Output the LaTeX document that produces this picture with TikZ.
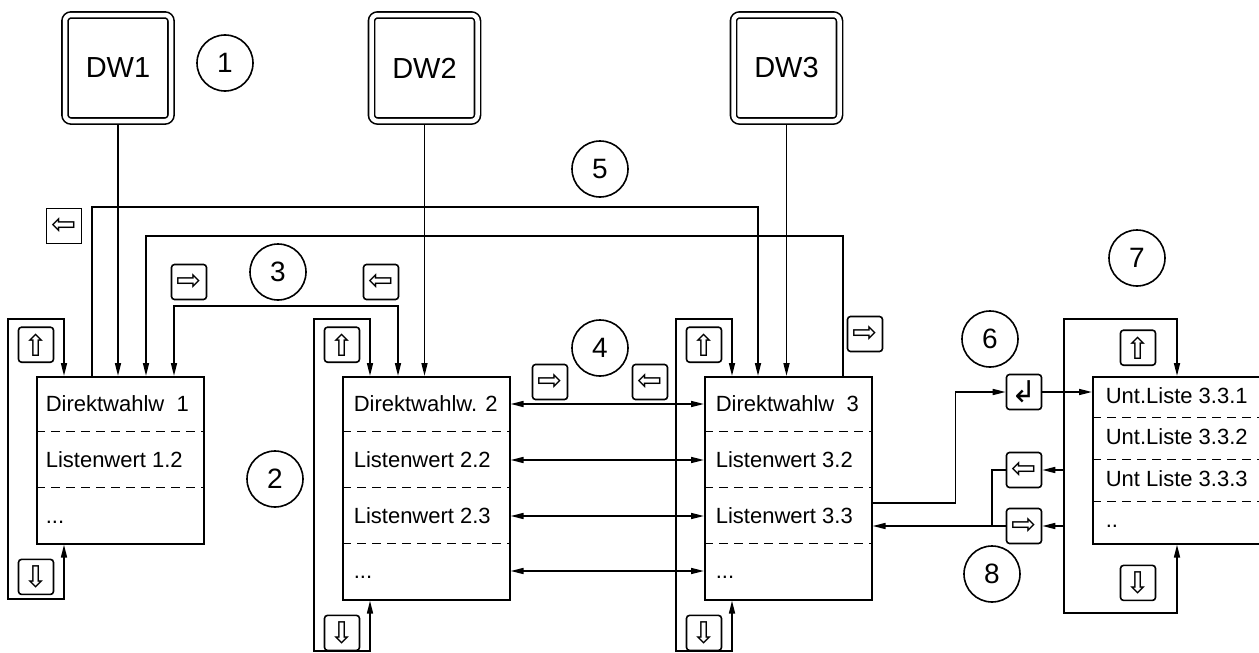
\documentclass[tikz,border=0pt]{standalone}
\usepackage{fontspec}
\setmainfont{Liberation Sans}
\newfontfamily\symfont{DejaVu Sans}
\usetikzlibrary{arrows.meta,positioning}

\begin{document}
\begin{tikzpicture}[
    x=1pt, y=-1pt,
    line width=1.6pt,
    dwkey/.style={draw, double, double distance=4.5pt, rounded corners=6pt, minimum width=106pt, minimum height=106pt, outer sep=3.5pt, font=\fontsize{29}{32}\selectfont},
    key/.style={draw, rounded corners=3pt, minimum width=35pt, minimum height=35pt, inner sep=0pt, font=\symfont\fontsize{30}{30}\selectfont},
    num/.style={draw, circle, minimum size=56pt, inner sep=0pt, font=\fontsize{28}{28}\selectfont},
    listbox/.style={draw, anchor=north west, minimum width=167pt, inner sep=0pt},
    entry/.style={anchor=west, inner sep=0pt, text height=15pt, text depth=0pt, font=\fontsize{22}{22}\selectfont},
    sep/.style={dash pattern=on 9pt off 6pt},
    arrow/.style={-{Triangle[length=13pt,width=6pt]}},
    both/.style={{Triangle[length=13pt,width=6pt]}-{Triangle[length=13pt,width=6pt]}},
]
    \useasboundingbox (0,0) rectangle (1259,653);
    \clip (0,0) rectangle (1259,653);

    % direct keys
    \node[dwkey] (dw1) at (118,68) {DW1};
    \node[dwkey] (dw2) at (424.5,68) {DW2};
    \node[dwkey] (dw3) at (786.5,68) {DW3};

    % lists
    \node[listbox, minimum height=167pt] (list1) at (36,376) {};
    \node[listbox, minimum height=223pt] (list2) at (342,376) {};
    \node[listbox, minimum height=223pt] (list3) at (704,376) {};
    \node[listbox, minimum width=180pt, minimum height=167pt] (sub) at (1092,376) {};

    \node[entry] (e11) at (45,404) {Direktwahlw\ \ 1};
    \node[entry] (e12) at (45,460) {Listenwert 1.2};
    \node[entry] (e13) at (45,516) {...};
    \draw[sep] (list1.west |- 0,431.5) -- (list1.east |- 0,431.5);
    \draw[sep] (list1.west |- 0,487.5) -- (list1.east |- 0,487.5);

    \node[entry] (e21) at (353,404) {Direktwahlw. 2};
    \node[entry] (e22) at (353,460) {Listenwert 2.2};
    \node[entry] (e23) at (353,516) {Listenwert 2.3};
    \node[entry] (e24) at (353,571) {...};
    \draw[sep] (list2.west |- 0,431.5) -- (list2.east |- 0,431.5);
    \draw[sep] (list2.west |- 0,487.5) -- (list2.east |- 0,487.5);
    \draw[sep] (list2.west |- 0,543.5) -- (list2.east |- 0,543.5);

    \node[entry] (e31) at (715,404) {Direktwahlw\ \ 3};
    \node[entry] (e32) at (715,460) {Listenwert 3.2};
    \node[entry] (e33) at (715,516) {Listenwert 3.3};
    \node[entry] (e34) at (715,571) {...};
    \draw[sep] (list3.west |- 0,431.5) -- (list3.east |- 0,431.5);
    \draw[sep] (list3.west |- 0,487.5) -- (list3.east |- 0,487.5);
    \draw[sep] (list3.west |- 0,543.5) -- (list3.east |- 0,543.5);

    \node[entry] (s1) at (1105,396) {Unt.Liste 3.3.1};
    \node[entry] (s2) at (1105,437) {Unt.Liste 3.3.2};
    \node[entry] (s3) at (1105,479) {Unt Liste 3.3.3};
    \node[entry] (s4) at (1105,520) {..};
    \draw[sep] (sub.west |- 0,417.5) -- (sub.east |- 0,417.5);
    \draw[sep] (sub.west |- 0,459.5) -- (sub.east |- 0,459.5);
    \draw[sep] (sub.west |- 0,501.5) -- (sub.east |- 0,501.5);

    % scroll keys
    \node[key, above=13pt of list1.north west] (up1) {⇧};
    \node[key, below=14pt of list1.south west] (down1) {⇩};
    \node[key, above=13pt of list2.north west] (up2) {⇧};
    \node[key, below=14pt of list2.south west] (down2) {⇩};
    \node[key, above=13pt of list3.north west] (up3) {⇧};
    \node[key, below=14pt of list3.south west] (down3) {⇩};
    \node[key, above=10pt of sub.north west, xshift=46pt] (up4) {⇧};
    \node[key, below=20pt of sub.south west, xshift=46pt] (down4) {⇩};

    % other keys
    \node[key, sharp corners] (wrapl) at (64,226) {⇦};
    \node[key] (r3) at (189,282) {⇨};
    \node[key] (l3) at (381,282) {⇦};
    \node[key] (r4) at (550,382) {⇨};
    \node[key] (l4) at (650,382) {⇦};
    \node[key] (wrapr) at (865,334) {⇨};
    \node[key] (enter) at (1024,392) {↲};
    \node[key] (back) at (1024,470) {⇦};
    \node[key] (fwd) at (1024,526) {⇨};

    % markers
    \node[num] (n1) at (225,63) {1};
    \node[num] (n2) at (275,479) {2};
    \node[num] (n3) at (278,272) {3};
    \node[num] (n4) at (600,348) {4};
    \node[num] (n5) at (600,169) {5};
    \node[num] (n6) at (990,339) {6};
    \node[num] (n7) at (1137,258) {7};
    \node[num] (n8) at (992,574) {8};

    % connections
    \draw[arrow] (dw1) -- (dw1 |- list1.north);
    \draw[arrow] (dw2) -- (dw2 |- list2.north);
    \draw[arrow] (dw3) -- (dw3 |- list3.north);

    \draw[arrow] ([xshift=56pt]list1.north west) -- ++(0,-169) -| ([xshift=54pt]list3.north west);
    \draw[arrow] ([xshift=139pt]list3.north west) -- ++(0,-140) -| ([xshift=110pt]list1.north west);
    \draw[both] ([xshift=56pt]list2.north west) -- ++(0,-70) -| ([xshift=138pt]list1.north west);

    \draw[both] ([xshift=28pt]list1.north west) -- ++(0,-57) -- ++(-56,0) -- ++(0,280) -- ++(56,0) -- ([xshift=28pt]list1.south west);
    \draw[both] ([xshift=28pt]list2.north west) -- ++(0,-57) -- ++(-56,0) -- ++(0,332) -- ++(56,0) -- ([xshift=28pt]list2.south west);
    \draw[both] ([xshift=28pt]list3.north west) -- ++(0,-57) -- ++(-56,0) -- ++(0,332) -- ++(56,0) -- ([xshift=28pt]list3.south west);
    \draw[both] ([xshift=85pt]sub.north west) -- ++(0,-57) -- ++(-113,0) -- ++(0,294) -- ++(113,0) -- ([xshift=85pt]sub.south west);
    \coordinate (loop4) at ([xshift=-28pt]sub.north west);

    \draw[both] (list2.east |- e21) -- (list3.west |- e21);
    \draw[both] (list2.east |- e22) -- (list3.west |- e22);
    \draw[both] (list2.east |- e23) -- (list3.west |- e23);
    \draw[both] (list2.east |- e24) -- (list3.west |- e24);

    \draw[arrow] (list3.east |- 0,503) -- ++(83,0) |- (enter);
    \draw[arrow] (enter) -- (enter -| sub.west);
    \draw[arrow] (back -| loop4) -- (back);
    \draw[arrow] (fwd -| loop4) -- (fwd);
    \draw (back.west) -- ++(-14,0) |- (fwd.west);
    \draw[arrow] (fwd) -- (fwd -| list3.east);
\end{tikzpicture}
\end{document}
